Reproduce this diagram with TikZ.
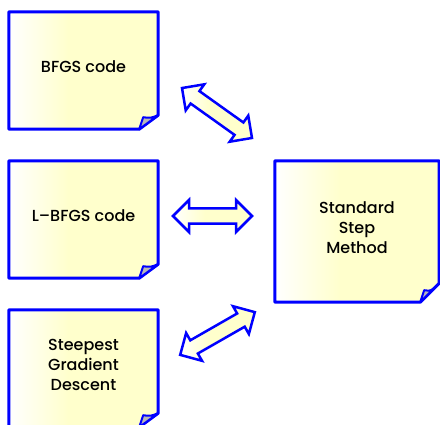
\documentclass[tikz,border=0pt]{standalone}
\usepackage{fontspec}
\IfFontExistsTF{Poppins Medium}{\setmainfont{Poppins Medium}}{\setmainfont{Poppins}}
\usetikzlibrary{shapes.arrows,backgrounds}
\definecolor{noteyellow}{HTML}{FFFFCC}
\definecolor{foldgray}{HTML}{B8B8B8}
\pgfdeclarehorizontalshading{notefill}{100bp}{color(0bp)=(white); color(25bp)=(white); color(45bp)=(noteyellow); color(100bp)=(noteyellow)}
\tikzset{
  note/.style={minimum width=149pt,minimum height=117pt,inner sep=0pt,text depth=7pt,align=center,font=\fontsize{16}{20}\selectfont},
  paper/.style={draw=blue,line width=3pt,shade,shading=notefill,line join=round},
  fold/.style={draw=blue,line width=2pt,fill=foldgray,line join=round},
  dblarrow/.style={double arrow,draw=blue,line width=2.5pt,shade,shading=notefill,minimum width=32pt,double arrow head extend=8pt,double arrow head indent=0pt,inner xsep=0pt,inner ysep=6pt}
}
% paper sheet with a curled corner behind a note node
\newcommand{\notepaper}[2]{%
  \path[paper] (#1.north west) -- (#1.north east) -- ([yshift=#2]#1.south east) -- ([xshift=-19pt]#1.south east) -- (#1.south west) -- cycle;
  \path[fold] ([xshift=-19pt]#1.south east) -- ([xshift=-15pt,yshift=12pt]#1.south east) .. controls ([xshift=-8pt,yshift=11pt]#1.south east) .. ([yshift=#2]#1.south east) -- cycle;
}
\begin{document}
\begin{tikzpicture}[x=1pt,y=-1pt]
\useasboundingbox (0,0) rectangle (440,424);
\node[note] (bfgs) at (83.5,70.5) {BFGS code};
\node[note] (lbfgs) at (83.5,219.5) {L--BFGS code};
\node[note] (steep) at (83.5,368.5) {Steepest\\Gradient\\Descent};
\node[note,minimum width=164pt,minimum height=141pt] (ssm) at (357,231.5) {Standard\\Step\\Method};

\begin{scope}[on background layer]
\notepaper{bfgs}{14pt}
\notepaper{lbfgs}{14pt}
\notepaper{steep}{14pt}
\notepaper{ssm}{19pt}
\end{scope}

\node[dblarrow,minimum height=86pt,rotate=-35.5] (a1) at (217,113) {};
\node[dblarrow,minimum height=79pt] (a2) at (212.5,216) {};
\node[dblarrow,minimum height=86pt,rotate=29.8] (a3) at (217.5,333.5) {};
\end{tikzpicture}
\end{document}
